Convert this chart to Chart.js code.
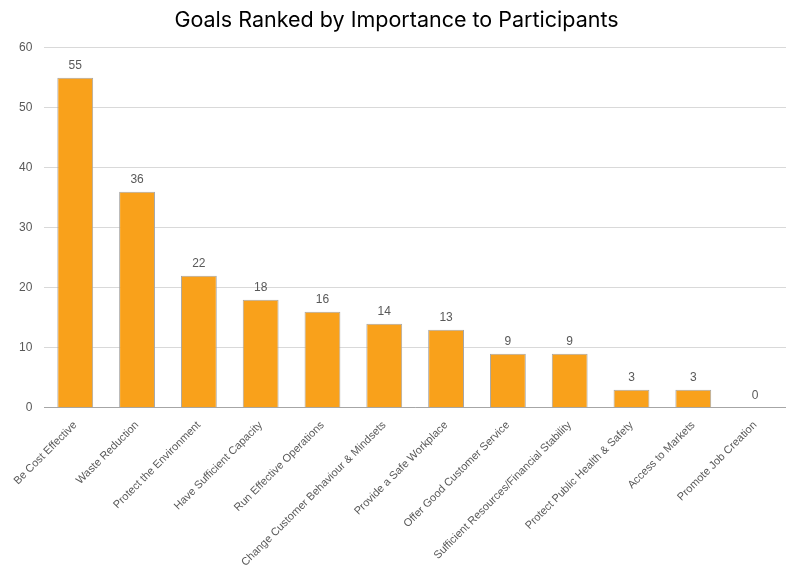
<!DOCTYPE html>
<html lang="en">
<head>
    <meta charset="UTF-8">
    <title>Goals Ranked by Importance to Participants</title>
    <style>
        body {
            margin: 0;
            background: #ffffff;
        }

        .chart-box {
            width: 786px;
            height: 574px;
        }
    </style>
</head>
<body>
    <div class="chart-box">
        <canvas id="goalsChart" width="786" height="574"></canvas>
    </div>
    <script src="https://cdn.jsdelivr.net/npm/chart.js"></script>
    <script>
        const goalLabels = [
            'Be Cost Effective',
            'Waste Reduction',
            'Protect the Environment',
            'Have Sufficient Capacity',
            'Run Effective Operations',
            'Change Customer Behaviour & Mindsets',
            'Provide a Safe Workplace',
            'Offer Good Customer Service',
            'Sufficient Resources/Financial Stability',
            'Protect Public Health & Safety',
            'Access to Markets',
            'Promote Job Creation'
        ];
        const goalCounts = [55, 36, 22, 18, 16, 14, 13, 9, 9, 3, 3, 0];
        const yTicks = [0, 10, 20, 30, 40, 50, 60];

        // writes each bar's value just above it
        const valueLabels = {
            id: 'valueLabels',
            afterDatasetsDraw(chart) {
                const ctx = chart.ctx;
                const meta = chart.getDatasetMeta(0);
                ctx.save();
                ctx.font = '12px "Liberation Sans", Arial, sans-serif';
                ctx.fillStyle = '#595959';
                ctx.textAlign = 'center';
                ctx.textBaseline = 'bottom';
                meta.data.forEach((bar, i) => {
                    ctx.fillText(goalCounts[i], bar.x, bar.y - 6);
                });
                ctx.restore();
            }
        };

        const ctx = document.getElementById('goalsChart').getContext('2d');
        new Chart(ctx, {
            type: 'bar',
            data: {
                labels: goalLabels,
                datasets: [{
                    data: goalCounts,
                    backgroundColor: '#F9A11B',
                    borderColor: '#A6A6A6',
                    borderWidth: 1,
                    barPercentage: 0.58,
                    categoryPercentage: 1
                }]
            },
            options: {
                responsive: false,
                animation: false,
                layout: {
                    padding: { left: 7, right: 0, top: 0, bottom: 2 }
                },
                plugins: {
                    legend: { display: false },
                    tooltip: { enabled: false },
                    title: {
                        display: true,
                        text: 'Goals Ranked by Importance to Participants',
                        color: '#000000',
                        font: { family: 'Inter, "Noto Sans", sans-serif', size: 21.5, weight: 'normal' },
                        padding: { top: 8, bottom: 14 }
                    }
                },
                scales: {
                    x: {
                        grid: { display: false },
                        border: { color: '#A6A6A6' },
                        ticks: {
                            color: '#595959',
                            font: { family: '"Liberation Sans", Arial, sans-serif', size: 11 },
                            minRotation: 45,
                            maxRotation: 45,
                            autoSkip: false
                        }
                    },
                    y: {
                        min: 0,
                        max: 60,
                        afterBuildTicks(axis) {
                            axis.ticks = yTicks.map(v => ({ value: v }));
                        },
                        grid: { color: '#D9D9D9', drawTicks: false },
                        border: { display: false },
                        ticks: {
                            color: '#595959',
                            padding: 12,
                            font: { family: '"Liberation Sans", Arial, sans-serif', size: 12 }
                        }
                    }
                }
            },
            plugins: [valueLabels]
        });
    </script>
</body>
</html>
